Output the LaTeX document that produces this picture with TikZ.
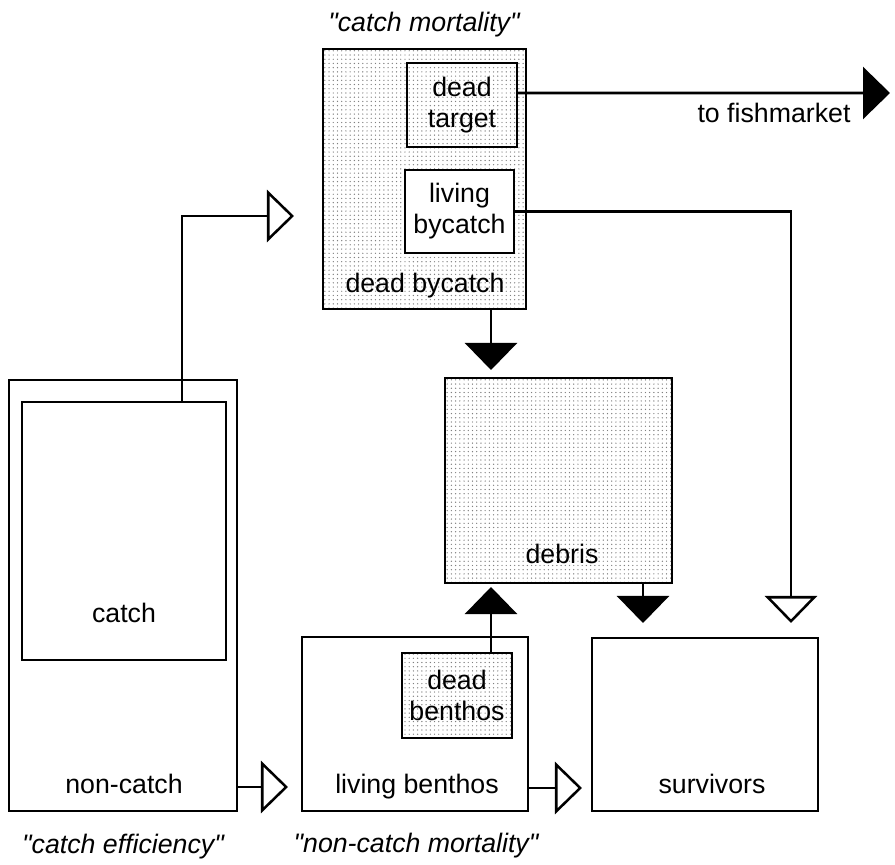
\documentclass[tikz,border=0pt]{standalone}
\usepackage{fontspec}
\setmainfont{Liberation Sans}[Ligatures=TeXOff]
\usetikzlibrary{arrows.meta,patterns}

\begin{document}
\begin{tikzpicture}[x=0.025cm, y=-0.025cm,
	font=\fontsize{19}{22}\selectfont,
	box/.style={draw, line width=1.8pt, inner sep=0pt, outer sep=0pt},
	dotbox/.style={box, pattern=dots, pattern color=black!50},
	lbl/.style={inner sep=0pt, anchor=base},
	slogan/.style={lbl, font=\fontsize{19}{22}\selectfont\itshape},
	flow/.style={line width=1.8pt},
	openflow/.style={flow, -{Triangle[open, length=0.675cm, width=1.3cm]}},
	fillflow/.style={flow, -{Triangle[length=0.675cm, width=1.3cm]}}]
	\useasboundingbox (0,0) rectangle (895,865);

	\node[dotbox, minimum width=5.075cm, minimum height=6.5cm] (mort) at (424.5,179) {};
	\node[box, minimum width=2.75cm, minimum height=2.1cm, align=center] (target) at (462,105) {dead\\target};
	\node[box, fill=white, minimum width=2.725cm, minimum height=2.075cm, align=center] (livbyc) at (459.5,211.5) {living\\bycatch};
	\node[lbl] (deadbyc) at (425,293) {dead bycatch};
	\node[slogan] (catchmort) at (424,32) {"catch mortality"};

	\node[dotbox, minimum width=5.675cm, minimum height=5.125cm] (debris) at (558.5,480.5) {};
	\node[lbl] (debristxt) at (562,563) {debris};

	\node[box, minimum width=5.7cm, minimum height=10.775cm] (noncatch) at (123,595.5) {};
	\node[box, minimum width=5.1cm, minimum height=6.45cm] (catch) at (124,531) {};
	\node[lbl] (catchtxt) at (124,622) {catch};
	\node[lbl] (noncatchtxt) at (124,793) {non-catch};
	\node[slogan] (catcheff) at (123,853) {"catch efficiency"};

	\node[box, minimum width=5.65cm, minimum height=4.35cm] (livben) at (415,724) {};
	\node[dotbox, minimum width=2.75cm, minimum height=2.125cm, align=center] (deadben) at (457,695.5) {dead\\benthos};
	\node[lbl] (livbentxt) at (417,793) {living benthos};
	\node[slogan] (noncatchmort) at (416,852) {"non-catch mortality"};

	\node[box, minimum width=5.65cm, minimum height=4.325cm] (surv) at (705,724.5) {};
	\node[lbl] (survtxt) at (712,793) {survivors};

	\node[lbl] (markettxt) at (774,123) {to fishmarket};

	\coordinate (market) at (890,93);
	\coordinate (tomort) at (294,216);
	\coordinate (debin1) at (491,370);
	\coordinate (debin2) at (491,587);
	\coordinate (survin1) at (643,623);
	\coordinate (survin2) at (791,623);
	\coordinate (livbenin) at (288,787);
	\coordinate (survin3) at (582,788);

	\draw[fillflow] ([yshift=0.3cm]target.east) -- (market);
	\draw[openflow] ([xshift=1.45cm]catch.north) |- (tomort);
	\draw[openflow] (livbyc.east) -| (survin2);
	\draw[fillflow] (mort.south -| debin1) -- (debin1);
	\draw[fillflow] (deadben.north -| debin2) -- (debin2);
	\draw[fillflow] (debris.south -| survin1) -- (survin1);
	\draw[openflow] (noncatch.east |- livbenin) -- (livbenin);
	\draw[openflow] (livben.east |- survin3) -- (survin3);
\end{tikzpicture}
\end{document}
